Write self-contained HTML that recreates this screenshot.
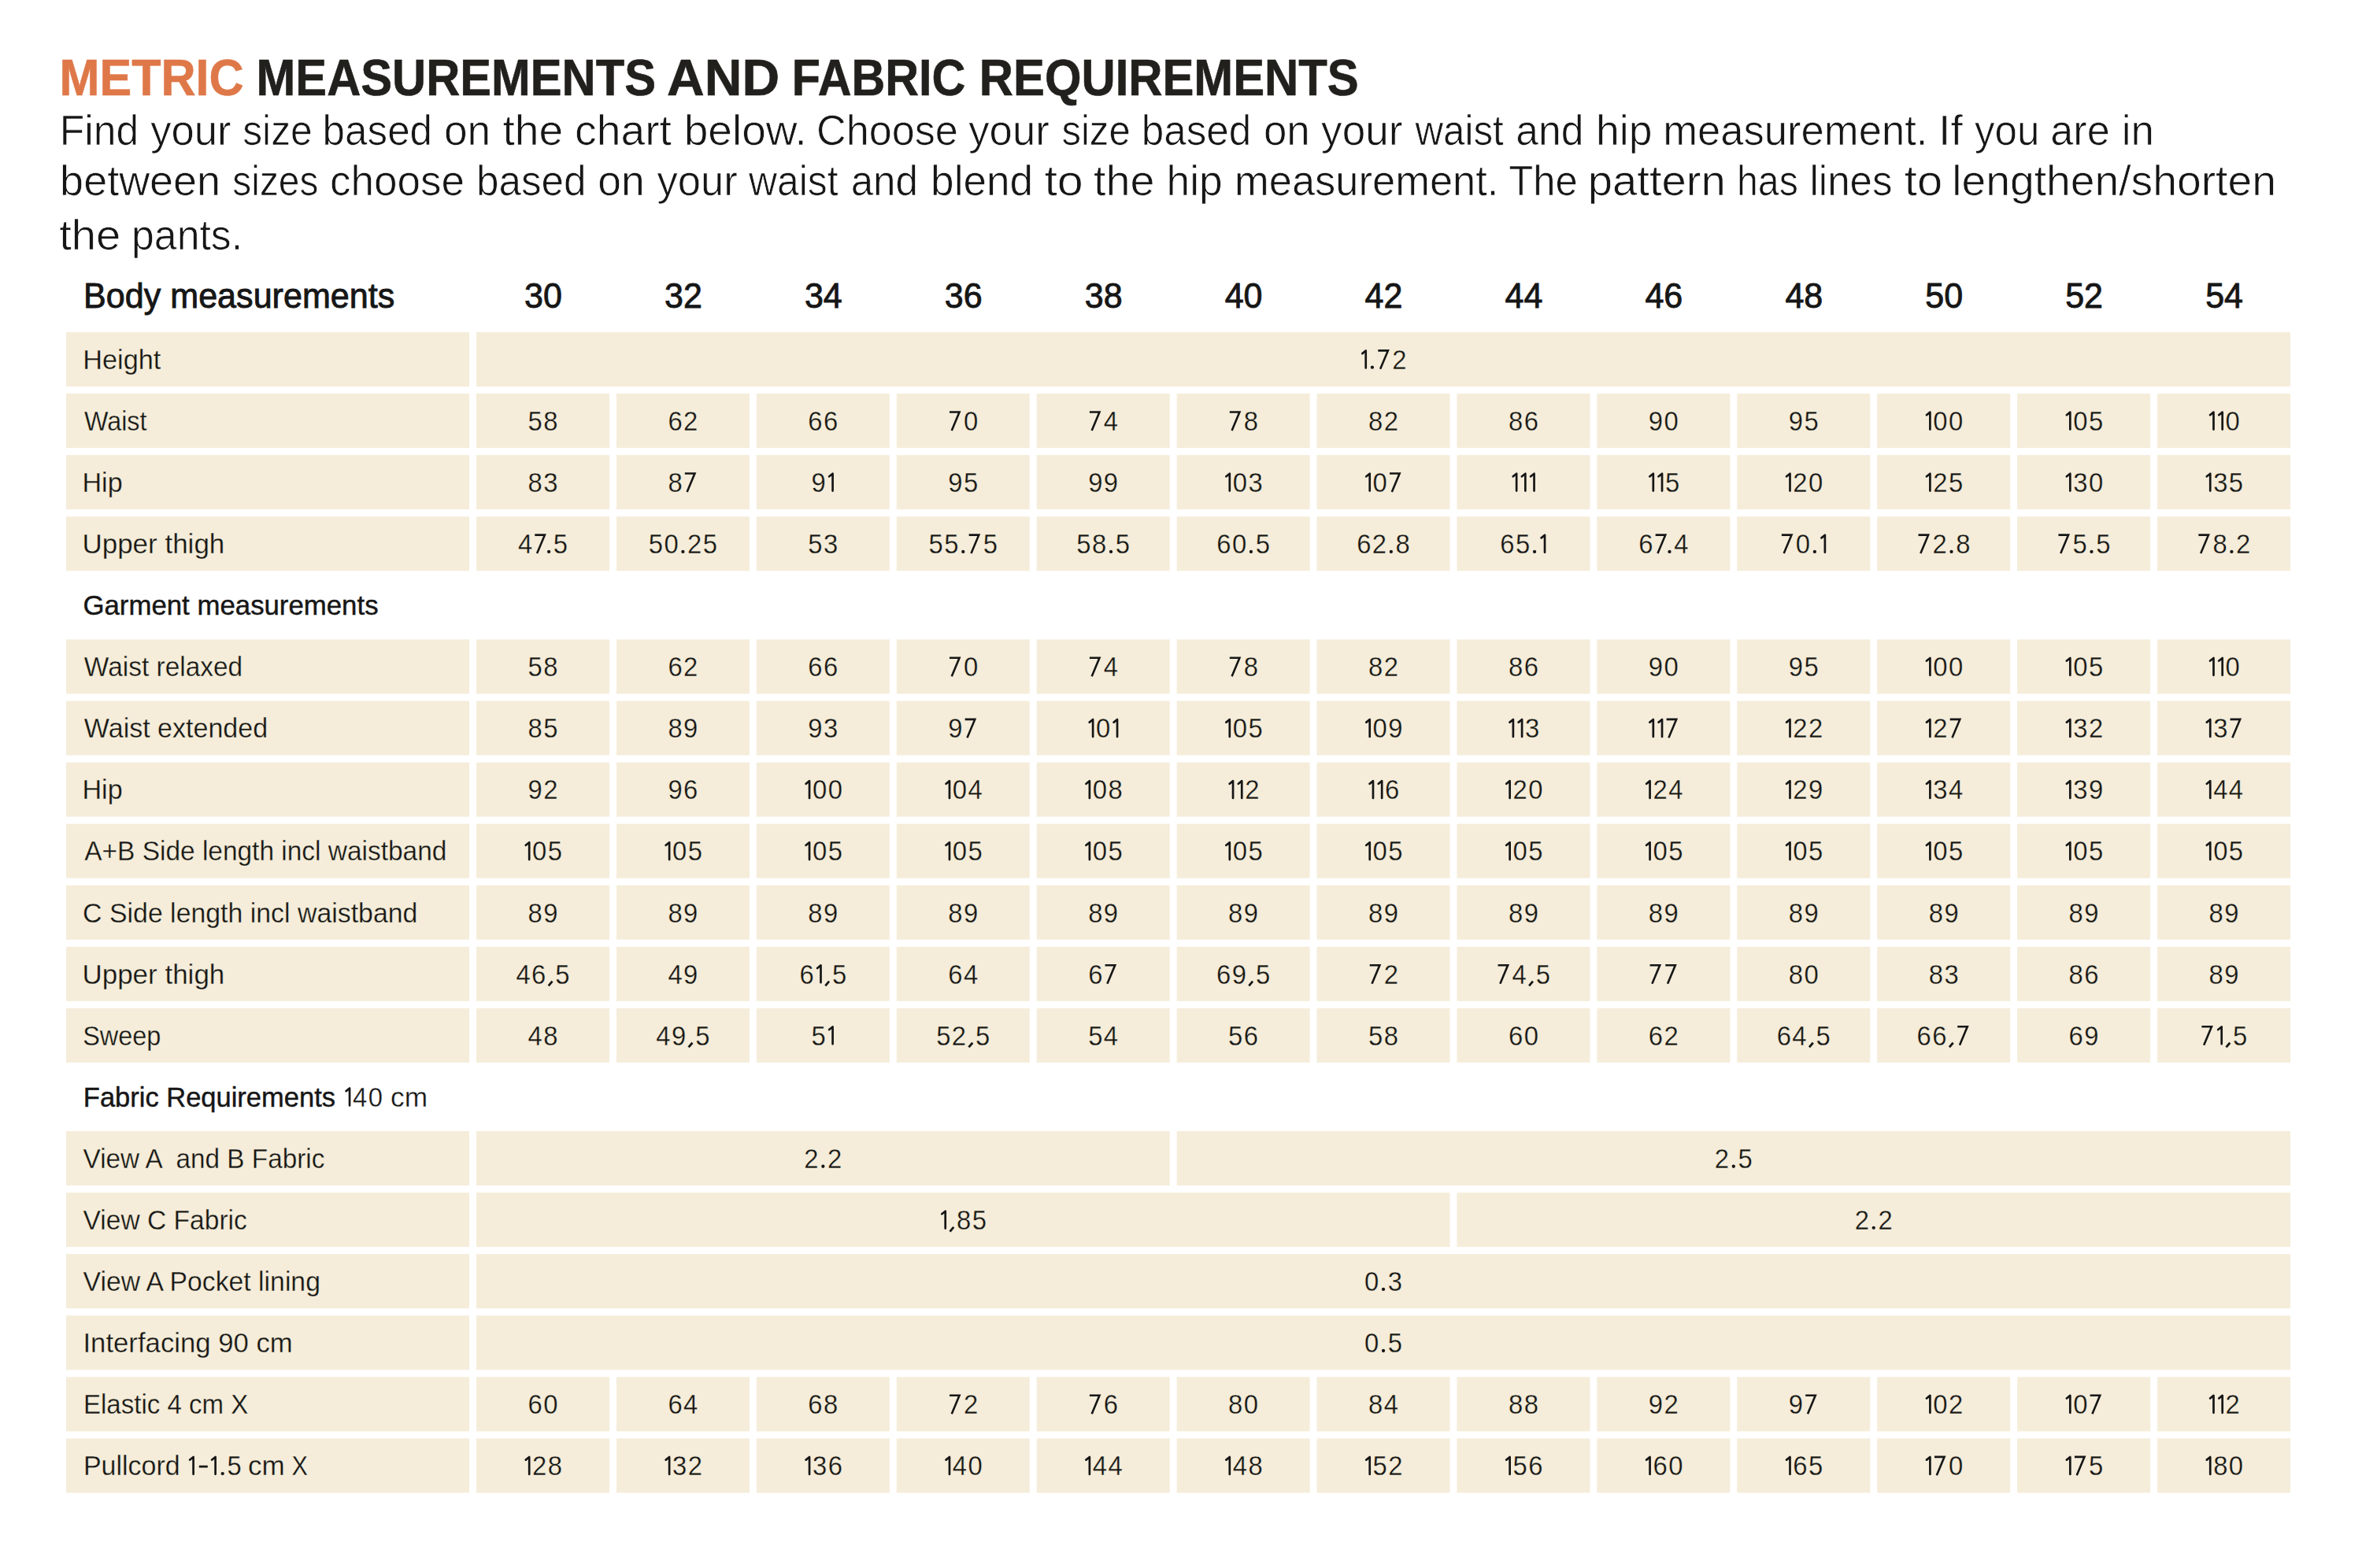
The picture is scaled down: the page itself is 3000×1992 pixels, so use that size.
<!DOCTYPE html>
<html><head><meta charset="utf-8"><title>Metric measurements</title>
<style>html,body{margin:0;padding:0;background:#fff;width:3000px;height:1992px;overflow:hidden}
svg{display:block} text{font-family:"Liberation Sans",sans-serif}</style></head>
<body><svg width="3000" height="1992" viewBox="0 0 3000 1992">
<rect width="3000" height="1992" fill="#fff"/>
<g fill="#F5EDDA"><rect x="84.00" y="422.00" width="512.00" height="69.00"/><rect x="605.00" y="422.00" width="2304.04" height="69.00"/><rect x="84.00" y="500.08" width="512.00" height="69.00"/><rect x="605.00" y="500.08" width="169.00" height="69.00"/><rect x="782.92" y="500.08" width="169.00" height="69.00"/><rect x="960.84" y="500.08" width="169.00" height="69.00"/><rect x="1138.76" y="500.08" width="169.00" height="69.00"/><rect x="1316.68" y="500.08" width="169.00" height="69.00"/><rect x="1494.60" y="500.08" width="169.00" height="69.00"/><rect x="1672.52" y="500.08" width="169.00" height="69.00"/><rect x="1850.44" y="500.08" width="169.00" height="69.00"/><rect x="2028.36" y="500.08" width="169.00" height="69.00"/><rect x="2206.28" y="500.08" width="169.00" height="69.00"/><rect x="2384.20" y="500.08" width="169.00" height="69.00"/><rect x="2562.12" y="500.08" width="169.00" height="69.00"/><rect x="2740.04" y="500.08" width="169.00" height="69.00"/><rect x="84.00" y="578.16" width="512.00" height="69.00"/><rect x="605.00" y="578.16" width="169.00" height="69.00"/><rect x="782.92" y="578.16" width="169.00" height="69.00"/><rect x="960.84" y="578.16" width="169.00" height="69.00"/><rect x="1138.76" y="578.16" width="169.00" height="69.00"/><rect x="1316.68" y="578.16" width="169.00" height="69.00"/><rect x="1494.60" y="578.16" width="169.00" height="69.00"/><rect x="1672.52" y="578.16" width="169.00" height="69.00"/><rect x="1850.44" y="578.16" width="169.00" height="69.00"/><rect x="2028.36" y="578.16" width="169.00" height="69.00"/><rect x="2206.28" y="578.16" width="169.00" height="69.00"/><rect x="2384.20" y="578.16" width="169.00" height="69.00"/><rect x="2562.12" y="578.16" width="169.00" height="69.00"/><rect x="2740.04" y="578.16" width="169.00" height="69.00"/><rect x="84.00" y="656.24" width="512.00" height="69.00"/><rect x="605.00" y="656.24" width="169.00" height="69.00"/><rect x="782.92" y="656.24" width="169.00" height="69.00"/><rect x="960.84" y="656.24" width="169.00" height="69.00"/><rect x="1138.76" y="656.24" width="169.00" height="69.00"/><rect x="1316.68" y="656.24" width="169.00" height="69.00"/><rect x="1494.60" y="656.24" width="169.00" height="69.00"/><rect x="1672.52" y="656.24" width="169.00" height="69.00"/><rect x="1850.44" y="656.24" width="169.00" height="69.00"/><rect x="2028.36" y="656.24" width="169.00" height="69.00"/><rect x="2206.28" y="656.24" width="169.00" height="69.00"/><rect x="2384.20" y="656.24" width="169.00" height="69.00"/><rect x="2562.12" y="656.24" width="169.00" height="69.00"/><rect x="2740.04" y="656.24" width="169.00" height="69.00"/><rect x="84.00" y="812.40" width="512.00" height="69.00"/><rect x="605.00" y="812.40" width="169.00" height="69.00"/><rect x="782.92" y="812.40" width="169.00" height="69.00"/><rect x="960.84" y="812.40" width="169.00" height="69.00"/><rect x="1138.76" y="812.40" width="169.00" height="69.00"/><rect x="1316.68" y="812.40" width="169.00" height="69.00"/><rect x="1494.60" y="812.40" width="169.00" height="69.00"/><rect x="1672.52" y="812.40" width="169.00" height="69.00"/><rect x="1850.44" y="812.40" width="169.00" height="69.00"/><rect x="2028.36" y="812.40" width="169.00" height="69.00"/><rect x="2206.28" y="812.40" width="169.00" height="69.00"/><rect x="2384.20" y="812.40" width="169.00" height="69.00"/><rect x="2562.12" y="812.40" width="169.00" height="69.00"/><rect x="2740.04" y="812.40" width="169.00" height="69.00"/><rect x="84.00" y="890.48" width="512.00" height="69.00"/><rect x="605.00" y="890.48" width="169.00" height="69.00"/><rect x="782.92" y="890.48" width="169.00" height="69.00"/><rect x="960.84" y="890.48" width="169.00" height="69.00"/><rect x="1138.76" y="890.48" width="169.00" height="69.00"/><rect x="1316.68" y="890.48" width="169.00" height="69.00"/><rect x="1494.60" y="890.48" width="169.00" height="69.00"/><rect x="1672.52" y="890.48" width="169.00" height="69.00"/><rect x="1850.44" y="890.48" width="169.00" height="69.00"/><rect x="2028.36" y="890.48" width="169.00" height="69.00"/><rect x="2206.28" y="890.48" width="169.00" height="69.00"/><rect x="2384.20" y="890.48" width="169.00" height="69.00"/><rect x="2562.12" y="890.48" width="169.00" height="69.00"/><rect x="2740.04" y="890.48" width="169.00" height="69.00"/><rect x="84.00" y="968.56" width="512.00" height="69.00"/><rect x="605.00" y="968.56" width="169.00" height="69.00"/><rect x="782.92" y="968.56" width="169.00" height="69.00"/><rect x="960.84" y="968.56" width="169.00" height="69.00"/><rect x="1138.76" y="968.56" width="169.00" height="69.00"/><rect x="1316.68" y="968.56" width="169.00" height="69.00"/><rect x="1494.60" y="968.56" width="169.00" height="69.00"/><rect x="1672.52" y="968.56" width="169.00" height="69.00"/><rect x="1850.44" y="968.56" width="169.00" height="69.00"/><rect x="2028.36" y="968.56" width="169.00" height="69.00"/><rect x="2206.28" y="968.56" width="169.00" height="69.00"/><rect x="2384.20" y="968.56" width="169.00" height="69.00"/><rect x="2562.12" y="968.56" width="169.00" height="69.00"/><rect x="2740.04" y="968.56" width="169.00" height="69.00"/><rect x="84.00" y="1046.64" width="512.00" height="69.00"/><rect x="605.00" y="1046.64" width="169.00" height="69.00"/><rect x="782.92" y="1046.64" width="169.00" height="69.00"/><rect x="960.84" y="1046.64" width="169.00" height="69.00"/><rect x="1138.76" y="1046.64" width="169.00" height="69.00"/><rect x="1316.68" y="1046.64" width="169.00" height="69.00"/><rect x="1494.60" y="1046.64" width="169.00" height="69.00"/><rect x="1672.52" y="1046.64" width="169.00" height="69.00"/><rect x="1850.44" y="1046.64" width="169.00" height="69.00"/><rect x="2028.36" y="1046.64" width="169.00" height="69.00"/><rect x="2206.28" y="1046.64" width="169.00" height="69.00"/><rect x="2384.20" y="1046.64" width="169.00" height="69.00"/><rect x="2562.12" y="1046.64" width="169.00" height="69.00"/><rect x="2740.04" y="1046.64" width="169.00" height="69.00"/><rect x="84.00" y="1124.72" width="512.00" height="69.00"/><rect x="605.00" y="1124.72" width="169.00" height="69.00"/><rect x="782.92" y="1124.72" width="169.00" height="69.00"/><rect x="960.84" y="1124.72" width="169.00" height="69.00"/><rect x="1138.76" y="1124.72" width="169.00" height="69.00"/><rect x="1316.68" y="1124.72" width="169.00" height="69.00"/><rect x="1494.60" y="1124.72" width="169.00" height="69.00"/><rect x="1672.52" y="1124.72" width="169.00" height="69.00"/><rect x="1850.44" y="1124.72" width="169.00" height="69.00"/><rect x="2028.36" y="1124.72" width="169.00" height="69.00"/><rect x="2206.28" y="1124.72" width="169.00" height="69.00"/><rect x="2384.20" y="1124.72" width="169.00" height="69.00"/><rect x="2562.12" y="1124.72" width="169.00" height="69.00"/><rect x="2740.04" y="1124.72" width="169.00" height="69.00"/><rect x="84.00" y="1202.80" width="512.00" height="69.00"/><rect x="605.00" y="1202.80" width="169.00" height="69.00"/><rect x="782.92" y="1202.80" width="169.00" height="69.00"/><rect x="960.84" y="1202.80" width="169.00" height="69.00"/><rect x="1138.76" y="1202.80" width="169.00" height="69.00"/><rect x="1316.68" y="1202.80" width="169.00" height="69.00"/><rect x="1494.60" y="1202.80" width="169.00" height="69.00"/><rect x="1672.52" y="1202.80" width="169.00" height="69.00"/><rect x="1850.44" y="1202.80" width="169.00" height="69.00"/><rect x="2028.36" y="1202.80" width="169.00" height="69.00"/><rect x="2206.28" y="1202.80" width="169.00" height="69.00"/><rect x="2384.20" y="1202.80" width="169.00" height="69.00"/><rect x="2562.12" y="1202.80" width="169.00" height="69.00"/><rect x="2740.04" y="1202.80" width="169.00" height="69.00"/><rect x="84.00" y="1280.88" width="512.00" height="69.00"/><rect x="605.00" y="1280.88" width="169.00" height="69.00"/><rect x="782.92" y="1280.88" width="169.00" height="69.00"/><rect x="960.84" y="1280.88" width="169.00" height="69.00"/><rect x="1138.76" y="1280.88" width="169.00" height="69.00"/><rect x="1316.68" y="1280.88" width="169.00" height="69.00"/><rect x="1494.60" y="1280.88" width="169.00" height="69.00"/><rect x="1672.52" y="1280.88" width="169.00" height="69.00"/><rect x="1850.44" y="1280.88" width="169.00" height="69.00"/><rect x="2028.36" y="1280.88" width="169.00" height="69.00"/><rect x="2206.28" y="1280.88" width="169.00" height="69.00"/><rect x="2384.20" y="1280.88" width="169.00" height="69.00"/><rect x="2562.12" y="1280.88" width="169.00" height="69.00"/><rect x="2740.04" y="1280.88" width="169.00" height="69.00"/><rect x="84.00" y="1437.04" width="512.00" height="69.00"/><rect x="605.00" y="1437.04" width="880.68" height="69.00"/><rect x="1494.60" y="1437.04" width="1414.44" height="69.00"/><rect x="84.00" y="1515.12" width="512.00" height="69.00"/><rect x="605.00" y="1515.12" width="1236.52" height="69.00"/><rect x="1850.44" y="1515.12" width="1058.60" height="69.00"/><rect x="84.00" y="1593.20" width="512.00" height="69.00"/><rect x="605.00" y="1593.20" width="2304.04" height="69.00"/><rect x="84.00" y="1671.28" width="512.00" height="69.00"/><rect x="605.00" y="1671.28" width="2304.04" height="69.00"/><rect x="84.00" y="1749.36" width="512.00" height="69.00"/><rect x="605.00" y="1749.36" width="169.00" height="69.00"/><rect x="782.92" y="1749.36" width="169.00" height="69.00"/><rect x="960.84" y="1749.36" width="169.00" height="69.00"/><rect x="1138.76" y="1749.36" width="169.00" height="69.00"/><rect x="1316.68" y="1749.36" width="169.00" height="69.00"/><rect x="1494.60" y="1749.36" width="169.00" height="69.00"/><rect x="1672.52" y="1749.36" width="169.00" height="69.00"/><rect x="1850.44" y="1749.36" width="169.00" height="69.00"/><rect x="2028.36" y="1749.36" width="169.00" height="69.00"/><rect x="2206.28" y="1749.36" width="169.00" height="69.00"/><rect x="2384.20" y="1749.36" width="169.00" height="69.00"/><rect x="2562.12" y="1749.36" width="169.00" height="69.00"/><rect x="2740.04" y="1749.36" width="169.00" height="69.00"/><rect x="84.00" y="1827.44" width="512.00" height="69.00"/><rect x="605.00" y="1827.44" width="169.00" height="69.00"/><rect x="782.92" y="1827.44" width="169.00" height="69.00"/><rect x="960.84" y="1827.44" width="169.00" height="69.00"/><rect x="1138.76" y="1827.44" width="169.00" height="69.00"/><rect x="1316.68" y="1827.44" width="169.00" height="69.00"/><rect x="1494.60" y="1827.44" width="169.00" height="69.00"/><rect x="1672.52" y="1827.44" width="169.00" height="69.00"/><rect x="1850.44" y="1827.44" width="169.00" height="69.00"/><rect x="2028.36" y="1827.44" width="169.00" height="69.00"/><rect x="2206.28" y="1827.44" width="169.00" height="69.00"/><rect x="2384.20" y="1827.44" width="169.00" height="69.00"/><rect x="2562.12" y="1827.44" width="169.00" height="69.00"/><rect x="2740.04" y="1827.44" width="169.00" height="69.00"/></g>
<g><text transform="translate(75.52,120.7) scale(0.9547,1)" font-size="64.00" font-weight="bold" fill="#DF7849" stroke="#DF7849" stroke-width="0.6">METRIC</text><text transform="translate(325.62,120.7) scale(0.9327,1)" font-size="64.00" font-weight="bold" fill="#22201D" stroke="#22201D" stroke-width="0.6">MEASUREMENTS</text><text transform="translate(847.02,120.7) scale(1.0317,1)" font-size="64.00" font-weight="bold" fill="#22201D" stroke="#22201D" stroke-width="0.6">AND</text><text transform="translate(1005.75,120.7) scale(0.9258,1)" font-size="64.00" font-weight="bold" fill="#22201D" stroke="#22201D" stroke-width="0.6">FABRIC</text><text transform="translate(1243.81,120.7) scale(0.9349,1)" font-size="64.00" font-weight="bold" fill="#22201D" stroke="#22201D" stroke-width="0.6">REQUIREMENTS</text><text transform="translate(75.77,184.00) scale(0.9764,1)" font-size="52.86" fill="#161616" stroke="#fff" stroke-width="0.7">Find</text><text transform="translate(191.30,184.00) scale(0.9950,1)" font-size="52.86" fill="#161616" stroke="#fff" stroke-width="0.7">your</text><text transform="translate(308.21,184.00) scale(0.9415,1)" font-size="52.86" fill="#161616" stroke="#fff" stroke-width="0.7">size</text><text transform="translate(409.62,184.00) scale(0.9686,1)" font-size="52.86" fill="#161616" stroke="#fff" stroke-width="0.7">based</text><text transform="translate(563.97,184.00) scale(1.0078,1)" font-size="52.86" fill="#161616" stroke="#fff" stroke-width="0.7">on</text><text transform="translate(638.49,184.00) scale(1.0455,1)" font-size="52.86" fill="#161616" stroke="#fff" stroke-width="0.7">the</text><text transform="translate(730.09,184.00) scale(1.0457,1)" font-size="52.86" fill="#161616" stroke="#fff" stroke-width="0.7">chart</text><text transform="translate(868.64,184.00) scale(1.0423,1)" font-size="52.86" fill="#161616" stroke="#fff" stroke-width="0.7">below.</text><text transform="translate(1037.09,184.00) scale(0.9866,1)" font-size="52.86" fill="#161616" stroke="#fff" stroke-width="0.7">Choose</text><text transform="translate(1230.30,184.00) scale(0.9959,1)" font-size="52.86" fill="#161616" stroke="#fff" stroke-width="0.7">your</text><text transform="translate(1348.43,184.00) scale(0.9281,1)" font-size="52.86" fill="#161616" stroke="#fff" stroke-width="0.7">size</text><text transform="translate(1449.72,184.00) scale(0.9686,1)" font-size="52.86" fill="#161616" stroke="#fff" stroke-width="0.7">based</text><text transform="translate(1604.89,184.00) scale(1.0003,1)" font-size="52.86" fill="#161616" stroke="#fff" stroke-width="0.7">on</text><text transform="translate(1678.10,184.00) scale(1.0038,1)" font-size="52.86" fill="#161616" stroke="#fff" stroke-width="0.7">your</text><text transform="translate(1797.50,184.00) scale(0.9318,1)" font-size="52.86" fill="#161616" stroke="#fff" stroke-width="0.7">waist</text><text transform="translate(1925.34,184.00) scale(0.9763,1)" font-size="52.86" fill="#161616" stroke="#fff" stroke-width="0.7">and</text><text transform="translate(2027.05,184.00) scale(1.0126,1)" font-size="52.86" fill="#161616" stroke="#fff" stroke-width="0.7">hip</text><text transform="translate(2112.22,184.00) scale(0.9951,1)" font-size="52.86" fill="#161616" stroke="#fff" stroke-width="0.7">measurement.</text><text transform="translate(2462.02,184.00) scale(1.0466,1)" font-size="52.86" fill="#161616" stroke="#fff" stroke-width="0.7">If</text><text transform="translate(2508.00,184.00) scale(0.9668,1)" font-size="52.86" fill="#161616" stroke="#fff" stroke-width="0.7">you</text><text transform="translate(2604.31,184.00) scale(0.9863,1)" font-size="52.86" fill="#161616" stroke="#fff" stroke-width="0.7">are</text><text transform="translate(2694.80,184.00) scale(0.9992,1)" font-size="52.86" fill="#161616" stroke="#fff" stroke-width="0.7">in</text><text transform="translate(76.12,247.70) scale(1.0211,1)" font-size="52.86" fill="#161616" stroke="#fff" stroke-width="0.7">between</text><text transform="translate(295.36,247.70) scale(0.9057,1)" font-size="52.86" fill="#161616" stroke="#fff" stroke-width="0.7">sizes</text><text transform="translate(418.98,247.70) scale(1.0038,1)" font-size="52.86" fill="#161616" stroke="#fff" stroke-width="0.7">choose</text><text transform="translate(604.91,247.70) scale(0.9693,1)" font-size="52.86" fill="#161616" stroke="#fff" stroke-width="0.7">based</text><text transform="translate(759.16,247.70) scale(1.0115,1)" font-size="52.86" fill="#161616" stroke="#fff" stroke-width="0.7">on</text><text transform="translate(834.40,247.70) scale(0.9959,1)" font-size="52.86" fill="#161616" stroke="#fff" stroke-width="0.7">your</text><text transform="translate(951.00,247.70) scale(0.9426,1)" font-size="52.86" fill="#161616" stroke="#fff" stroke-width="0.7">waist</text><text transform="translate(1080.65,247.70) scale(0.9678,1)" font-size="52.86" fill="#161616" stroke="#fff" stroke-width="0.7">and</text><text transform="translate(1182.08,247.70) scale(1.0057,1)" font-size="52.86" fill="#161616" stroke="#fff" stroke-width="0.7">blend</text><text transform="translate(1326.42,247.70) scale(1.1204,1)" font-size="52.86" fill="#161616" stroke="#fff" stroke-width="0.7">to</text><text transform="translate(1388.99,247.70) scale(1.0541,1)" font-size="52.86" fill="#161616" stroke="#fff" stroke-width="0.7">the</text><text transform="translate(1481.56,247.70) scale(1.0095,1)" font-size="52.86" fill="#161616" stroke="#fff" stroke-width="0.7">hip</text><text transform="translate(1568.03,247.70) scale(0.9930,1)" font-size="52.86" fill="#161616" stroke="#fff" stroke-width="0.7">measurement.</text><text transform="translate(1916.28,247.70) scale(0.9608,1)" font-size="52.86" fill="#161616" stroke="#fff" stroke-width="0.7">The</text><text transform="translate(2016.76,247.70) scale(1.0640,1)" font-size="52.86" fill="#161616" stroke="#fff" stroke-width="0.7">pattern</text><text transform="translate(2206.02,247.70) scale(0.9134,1)" font-size="52.86" fill="#161616" stroke="#fff" stroke-width="0.7">has</text><text transform="translate(2298.52,247.70) scale(0.9663,1)" font-size="52.86" fill="#161616" stroke="#fff" stroke-width="0.7">lines</text><text transform="translate(2418.84,247.70) scale(1.0958,1)" font-size="52.86" fill="#161616" stroke="#fff" stroke-width="0.7">to</text><text transform="translate(2479.13,247.70) scale(1.0457,1)" font-size="52.86" fill="#161616" stroke="#fff" stroke-width="0.7">lengthen/shorten</text><text transform="translate(75.18,317.00) scale(1.0626,1)" font-size="52.86" fill="#161616" stroke="#fff" stroke-width="0.7">the</text><text transform="translate(167.08,317.00) scale(0.9792,1)" font-size="52.86" fill="#161616" stroke="#fff" stroke-width="0.7">pants.</text><text transform="translate(105.26,468.80) scale(0.9756,1)" font-size="35.14" font-weight="normal" fill="#161616" stroke="#F5EDDA" stroke-width="0.3" xml:space="preserve">Height</text><text transform="translate(1768.31,468.85) scale(0.93,1)" font-size="35.29" fill="#161616" stroke="#F5EDDA" stroke-width="0.3">2</text><text transform="translate(106.88,546.88) scale(0.9199,1)" font-size="35.14" font-weight="normal" fill="#161616" stroke="#F5EDDA" stroke-width="0.3" xml:space="preserve">Waist</text><text transform="translate(670.49,546.93) scale(0.93,1)" font-size="35.29" fill="#161616" stroke="#F5EDDA" stroke-width="0.3">5</text><text transform="translate(690.19,546.93) scale(0.93,1)" font-size="35.29" fill="#161616" stroke="#F5EDDA" stroke-width="0.3">8</text><text transform="translate(848.41,546.93) scale(0.93,1)" font-size="35.29" fill="#161616" stroke="#F5EDDA" stroke-width="0.3">6</text><text transform="translate(868.11,546.93) scale(0.93,1)" font-size="35.29" fill="#161616" stroke="#F5EDDA" stroke-width="0.3">2</text><text transform="translate(1026.33,546.93) scale(0.93,1)" font-size="35.29" fill="#161616" stroke="#F5EDDA" stroke-width="0.3">6</text><text transform="translate(1046.03,546.93) scale(0.93,1)" font-size="35.29" fill="#161616" stroke="#F5EDDA" stroke-width="0.3">6</text><text transform="translate(1223.95,546.93) scale(0.93,1)" font-size="35.29" fill="#161616" stroke="#F5EDDA" stroke-width="0.3">0</text><text transform="translate(1401.87,546.93) scale(0.93,1)" font-size="35.29" fill="#161616" stroke="#F5EDDA" stroke-width="0.3">4</text><text transform="translate(1579.79,546.93) scale(0.93,1)" font-size="35.29" fill="#161616" stroke="#F5EDDA" stroke-width="0.3">8</text><text transform="translate(1738.01,546.93) scale(0.93,1)" font-size="35.29" fill="#161616" stroke="#F5EDDA" stroke-width="0.3">8</text><text transform="translate(1757.71,546.93) scale(0.93,1)" font-size="35.29" fill="#161616" stroke="#F5EDDA" stroke-width="0.3">2</text><text transform="translate(1915.93,546.93) scale(0.93,1)" font-size="35.29" fill="#161616" stroke="#F5EDDA" stroke-width="0.3">8</text><text transform="translate(1935.63,546.93) scale(0.93,1)" font-size="35.29" fill="#161616" stroke="#F5EDDA" stroke-width="0.3">6</text><text transform="translate(2093.85,546.93) scale(0.93,1)" font-size="35.29" fill="#161616" stroke="#F5EDDA" stroke-width="0.3">9</text><text transform="translate(2113.55,546.93) scale(0.93,1)" font-size="35.29" fill="#161616" stroke="#F5EDDA" stroke-width="0.3">0</text><text transform="translate(2271.77,546.93) scale(0.93,1)" font-size="35.29" fill="#161616" stroke="#F5EDDA" stroke-width="0.3">9</text><text transform="translate(2291.47,546.93) scale(0.93,1)" font-size="35.29" fill="#161616" stroke="#F5EDDA" stroke-width="0.3">5</text><text transform="translate(2455.29,546.93) scale(0.93,1)" font-size="35.29" fill="#161616" stroke="#F5EDDA" stroke-width="0.3">0</text><text transform="translate(2474.99,546.93) scale(0.93,1)" font-size="35.29" fill="#161616" stroke="#F5EDDA" stroke-width="0.3">0</text><text transform="translate(2633.21,546.93) scale(0.93,1)" font-size="35.29" fill="#161616" stroke="#F5EDDA" stroke-width="0.3">0</text><text transform="translate(2652.91,546.93) scale(0.93,1)" font-size="35.29" fill="#161616" stroke="#F5EDDA" stroke-width="0.3">5</text><text transform="translate(2826.58,546.93) scale(0.93,1)" font-size="35.29" fill="#161616" stroke="#F5EDDA" stroke-width="0.3">0</text><text transform="translate(104.47,624.96) scale(0.9712,1)" font-size="35.14" font-weight="normal" fill="#161616" stroke="#F5EDDA" stroke-width="0.3" xml:space="preserve">Hip</text><text transform="translate(670.49,625.01) scale(0.93,1)" font-size="35.29" fill="#161616" stroke="#F5EDDA" stroke-width="0.3">8</text><text transform="translate(690.19,625.01) scale(0.93,1)" font-size="35.29" fill="#161616" stroke="#F5EDDA" stroke-width="0.3">3</text><text transform="translate(848.41,625.01) scale(0.93,1)" font-size="35.29" fill="#161616" stroke="#F5EDDA" stroke-width="0.3">8</text><text transform="translate(1030.58,625.01) scale(0.93,1)" font-size="35.29" fill="#161616" stroke="#F5EDDA" stroke-width="0.3">9</text><text transform="translate(1204.25,625.01) scale(0.93,1)" font-size="35.29" fill="#161616" stroke="#F5EDDA" stroke-width="0.3">9</text><text transform="translate(1223.95,625.01) scale(0.93,1)" font-size="35.29" fill="#161616" stroke="#F5EDDA" stroke-width="0.3">5</text><text transform="translate(1382.17,625.01) scale(0.93,1)" font-size="35.29" fill="#161616" stroke="#F5EDDA" stroke-width="0.3">9</text><text transform="translate(1401.87,625.01) scale(0.93,1)" font-size="35.29" fill="#161616" stroke="#F5EDDA" stroke-width="0.3">9</text><text transform="translate(1565.69,625.01) scale(0.93,1)" font-size="35.29" fill="#161616" stroke="#F5EDDA" stroke-width="0.3">0</text><text transform="translate(1585.39,625.01) scale(0.93,1)" font-size="35.29" fill="#161616" stroke="#F5EDDA" stroke-width="0.3">3</text><text transform="translate(1743.61,625.01) scale(0.93,1)" font-size="35.29" fill="#161616" stroke="#F5EDDA" stroke-width="0.3">0</text><text transform="translate(2114.90,625.01) scale(0.93,1)" font-size="35.29" fill="#161616" stroke="#F5EDDA" stroke-width="0.3">5</text><text transform="translate(2277.37,625.01) scale(0.93,1)" font-size="35.29" fill="#161616" stroke="#F5EDDA" stroke-width="0.3">2</text><text transform="translate(2297.07,625.01) scale(0.93,1)" font-size="35.29" fill="#161616" stroke="#F5EDDA" stroke-width="0.3">0</text><text transform="translate(2455.29,625.01) scale(0.93,1)" font-size="35.29" fill="#161616" stroke="#F5EDDA" stroke-width="0.3">2</text><text transform="translate(2474.99,625.01) scale(0.93,1)" font-size="35.29" fill="#161616" stroke="#F5EDDA" stroke-width="0.3">5</text><text transform="translate(2633.21,625.01) scale(0.93,1)" font-size="35.29" fill="#161616" stroke="#F5EDDA" stroke-width="0.3">3</text><text transform="translate(2652.91,625.01) scale(0.93,1)" font-size="35.29" fill="#161616" stroke="#F5EDDA" stroke-width="0.3">0</text><text transform="translate(2811.13,625.01) scale(0.93,1)" font-size="35.29" fill="#161616" stroke="#F5EDDA" stroke-width="0.3">3</text><text transform="translate(2830.83,625.01) scale(0.93,1)" font-size="35.29" fill="#161616" stroke="#F5EDDA" stroke-width="0.3">5</text><text transform="translate(104.40,703.04) scale(0.9962,1)" font-size="35.14" font-weight="normal" fill="#161616" stroke="#F5EDDA" stroke-width="0.3" xml:space="preserve">Upper thigh</text><text transform="translate(657.89,703.09) scale(0.93,1)" font-size="35.29" fill="#161616" stroke="#F5EDDA" stroke-width="0.3">4</text><text transform="translate(702.79,703.09) scale(0.93,1)" font-size="35.29" fill="#161616" stroke="#F5EDDA" stroke-width="0.3">5</text><text transform="translate(823.71,703.09) scale(0.93,1)" font-size="35.29" fill="#161616" stroke="#F5EDDA" stroke-width="0.3">5</text><text transform="translate(843.41,703.09) scale(0.93,1)" font-size="35.29" fill="#161616" stroke="#F5EDDA" stroke-width="0.3">0</text><text transform="translate(873.11,703.09) scale(0.93,1)" font-size="35.29" fill="#161616" stroke="#F5EDDA" stroke-width="0.3">2</text><text transform="translate(892.81,703.09) scale(0.93,1)" font-size="35.29" fill="#161616" stroke="#F5EDDA" stroke-width="0.3">5</text><text transform="translate(1026.33,703.09) scale(0.93,1)" font-size="35.29" fill="#161616" stroke="#F5EDDA" stroke-width="0.3">5</text><text transform="translate(1046.03,703.09) scale(0.93,1)" font-size="35.29" fill="#161616" stroke="#F5EDDA" stroke-width="0.3">3</text><text transform="translate(1179.55,703.09) scale(0.93,1)" font-size="35.29" fill="#161616" stroke="#F5EDDA" stroke-width="0.3">5</text><text transform="translate(1199.25,703.09) scale(0.93,1)" font-size="35.29" fill="#161616" stroke="#F5EDDA" stroke-width="0.3">5</text><text transform="translate(1248.65,703.09) scale(0.93,1)" font-size="35.29" fill="#161616" stroke="#F5EDDA" stroke-width="0.3">5</text><text transform="translate(1367.32,703.09) scale(0.93,1)" font-size="35.29" fill="#161616" stroke="#F5EDDA" stroke-width="0.3">5</text><text transform="translate(1387.02,703.09) scale(0.93,1)" font-size="35.29" fill="#161616" stroke="#F5EDDA" stroke-width="0.3">8</text><text transform="translate(1416.72,703.09) scale(0.93,1)" font-size="35.29" fill="#161616" stroke="#F5EDDA" stroke-width="0.3">5</text><text transform="translate(1545.24,703.09) scale(0.93,1)" font-size="35.29" fill="#161616" stroke="#F5EDDA" stroke-width="0.3">6</text><text transform="translate(1564.94,703.09) scale(0.93,1)" font-size="35.29" fill="#161616" stroke="#F5EDDA" stroke-width="0.3">0</text><text transform="translate(1594.64,703.09) scale(0.93,1)" font-size="35.29" fill="#161616" stroke="#F5EDDA" stroke-width="0.3">5</text><text transform="translate(1723.16,703.09) scale(0.93,1)" font-size="35.29" fill="#161616" stroke="#F5EDDA" stroke-width="0.3">6</text><text transform="translate(1742.86,703.09) scale(0.93,1)" font-size="35.29" fill="#161616" stroke="#F5EDDA" stroke-width="0.3">2</text><text transform="translate(1772.56,703.09) scale(0.93,1)" font-size="35.29" fill="#161616" stroke="#F5EDDA" stroke-width="0.3">8</text><text transform="translate(1905.33,703.09) scale(0.93,1)" font-size="35.29" fill="#161616" stroke="#F5EDDA" stroke-width="0.3">6</text><text transform="translate(1925.03,703.09) scale(0.93,1)" font-size="35.29" fill="#161616" stroke="#F5EDDA" stroke-width="0.3">5</text><text transform="translate(2081.25,703.09) scale(0.93,1)" font-size="35.29" fill="#161616" stroke="#F5EDDA" stroke-width="0.3">6</text><text transform="translate(2126.15,703.09) scale(0.93,1)" font-size="35.29" fill="#161616" stroke="#F5EDDA" stroke-width="0.3">4</text><text transform="translate(2280.87,703.09) scale(0.93,1)" font-size="35.29" fill="#161616" stroke="#F5EDDA" stroke-width="0.3">0</text><text transform="translate(2454.54,703.09) scale(0.93,1)" font-size="35.29" fill="#161616" stroke="#F5EDDA" stroke-width="0.3">2</text><text transform="translate(2484.24,703.09) scale(0.93,1)" font-size="35.29" fill="#161616" stroke="#F5EDDA" stroke-width="0.3">8</text><text transform="translate(2632.46,703.09) scale(0.93,1)" font-size="35.29" fill="#161616" stroke="#F5EDDA" stroke-width="0.3">5</text><text transform="translate(2662.16,703.09) scale(0.93,1)" font-size="35.29" fill="#161616" stroke="#F5EDDA" stroke-width="0.3">5</text><text transform="translate(2810.38,703.09) scale(0.93,1)" font-size="35.29" fill="#161616" stroke="#F5EDDA" stroke-width="0.3">8</text><text transform="translate(2840.08,703.09) scale(0.93,1)" font-size="35.29" fill="#161616" stroke="#F5EDDA" stroke-width="0.3">2</text><text transform="translate(106.87,859.20) scale(0.9517,1)" font-size="35.14" font-weight="normal" fill="#161616" stroke="#F5EDDA" stroke-width="0.3" xml:space="preserve">Waist relaxed</text><text transform="translate(670.49,859.25) scale(0.93,1)" font-size="35.29" fill="#161616" stroke="#F5EDDA" stroke-width="0.3">5</text><text transform="translate(690.19,859.25) scale(0.93,1)" font-size="35.29" fill="#161616" stroke="#F5EDDA" stroke-width="0.3">8</text><text transform="translate(848.41,859.25) scale(0.93,1)" font-size="35.29" fill="#161616" stroke="#F5EDDA" stroke-width="0.3">6</text><text transform="translate(868.11,859.25) scale(0.93,1)" font-size="35.29" fill="#161616" stroke="#F5EDDA" stroke-width="0.3">2</text><text transform="translate(1026.33,859.25) scale(0.93,1)" font-size="35.29" fill="#161616" stroke="#F5EDDA" stroke-width="0.3">6</text><text transform="translate(1046.03,859.25) scale(0.93,1)" font-size="35.29" fill="#161616" stroke="#F5EDDA" stroke-width="0.3">6</text><text transform="translate(1223.95,859.25) scale(0.93,1)" font-size="35.29" fill="#161616" stroke="#F5EDDA" stroke-width="0.3">0</text><text transform="translate(1401.87,859.25) scale(0.93,1)" font-size="35.29" fill="#161616" stroke="#F5EDDA" stroke-width="0.3">4</text><text transform="translate(1579.79,859.25) scale(0.93,1)" font-size="35.29" fill="#161616" stroke="#F5EDDA" stroke-width="0.3">8</text><text transform="translate(1738.01,859.25) scale(0.93,1)" font-size="35.29" fill="#161616" stroke="#F5EDDA" stroke-width="0.3">8</text><text transform="translate(1757.71,859.25) scale(0.93,1)" font-size="35.29" fill="#161616" stroke="#F5EDDA" stroke-width="0.3">2</text><text transform="translate(1915.93,859.25) scale(0.93,1)" font-size="35.29" fill="#161616" stroke="#F5EDDA" stroke-width="0.3">8</text><text transform="translate(1935.63,859.25) scale(0.93,1)" font-size="35.29" fill="#161616" stroke="#F5EDDA" stroke-width="0.3">6</text><text transform="translate(2093.85,859.25) scale(0.93,1)" font-size="35.29" fill="#161616" stroke="#F5EDDA" stroke-width="0.3">9</text><text transform="translate(2113.55,859.25) scale(0.93,1)" font-size="35.29" fill="#161616" stroke="#F5EDDA" stroke-width="0.3">0</text><text transform="translate(2271.77,859.25) scale(0.93,1)" font-size="35.29" fill="#161616" stroke="#F5EDDA" stroke-width="0.3">9</text><text transform="translate(2291.47,859.25) scale(0.93,1)" font-size="35.29" fill="#161616" stroke="#F5EDDA" stroke-width="0.3">5</text><text transform="translate(2455.29,859.25) scale(0.93,1)" font-size="35.29" fill="#161616" stroke="#F5EDDA" stroke-width="0.3">0</text><text transform="translate(2474.99,859.25) scale(0.93,1)" font-size="35.29" fill="#161616" stroke="#F5EDDA" stroke-width="0.3">0</text><text transform="translate(2633.21,859.25) scale(0.93,1)" font-size="35.29" fill="#161616" stroke="#F5EDDA" stroke-width="0.3">0</text><text transform="translate(2652.91,859.25) scale(0.93,1)" font-size="35.29" fill="#161616" stroke="#F5EDDA" stroke-width="0.3">5</text><text transform="translate(2826.58,859.25) scale(0.93,1)" font-size="35.29" fill="#161616" stroke="#F5EDDA" stroke-width="0.3">0</text><text transform="translate(106.86,937.28) scale(0.9687,1)" font-size="35.14" font-weight="normal" fill="#161616" stroke="#F5EDDA" stroke-width="0.3" xml:space="preserve">Waist extended</text><text transform="translate(670.49,937.33) scale(0.93,1)" font-size="35.29" fill="#161616" stroke="#F5EDDA" stroke-width="0.3">8</text><text transform="translate(690.19,937.33) scale(0.93,1)" font-size="35.29" fill="#161616" stroke="#F5EDDA" stroke-width="0.3">5</text><text transform="translate(848.41,937.33) scale(0.93,1)" font-size="35.29" fill="#161616" stroke="#F5EDDA" stroke-width="0.3">8</text><text transform="translate(868.11,937.33) scale(0.93,1)" font-size="35.29" fill="#161616" stroke="#F5EDDA" stroke-width="0.3">9</text><text transform="translate(1026.33,937.33) scale(0.93,1)" font-size="35.29" fill="#161616" stroke="#F5EDDA" stroke-width="0.3">9</text><text transform="translate(1046.03,937.33) scale(0.93,1)" font-size="35.29" fill="#161616" stroke="#F5EDDA" stroke-width="0.3">3</text><text transform="translate(1204.25,937.33) scale(0.93,1)" font-size="35.29" fill="#161616" stroke="#F5EDDA" stroke-width="0.3">9</text><text transform="translate(1392.02,937.33) scale(0.93,1)" font-size="35.29" fill="#161616" stroke="#F5EDDA" stroke-width="0.3">0</text><text transform="translate(1565.69,937.33) scale(0.93,1)" font-size="35.29" fill="#161616" stroke="#F5EDDA" stroke-width="0.3">0</text><text transform="translate(1585.39,937.33) scale(0.93,1)" font-size="35.29" fill="#161616" stroke="#F5EDDA" stroke-width="0.3">5</text><text transform="translate(1743.61,937.33) scale(0.93,1)" font-size="35.29" fill="#161616" stroke="#F5EDDA" stroke-width="0.3">0</text><text transform="translate(1763.31,937.33) scale(0.93,1)" font-size="35.29" fill="#161616" stroke="#F5EDDA" stroke-width="0.3">9</text><text transform="translate(1936.98,937.33) scale(0.93,1)" font-size="35.29" fill="#161616" stroke="#F5EDDA" stroke-width="0.3">3</text><text transform="translate(2277.37,937.33) scale(0.93,1)" font-size="35.29" fill="#161616" stroke="#F5EDDA" stroke-width="0.3">2</text><text transform="translate(2297.07,937.33) scale(0.93,1)" font-size="35.29" fill="#161616" stroke="#F5EDDA" stroke-width="0.3">2</text><text transform="translate(2455.29,937.33) scale(0.93,1)" font-size="35.29" fill="#161616" stroke="#F5EDDA" stroke-width="0.3">2</text><text transform="translate(2633.21,937.33) scale(0.93,1)" font-size="35.29" fill="#161616" stroke="#F5EDDA" stroke-width="0.3">3</text><text transform="translate(2652.91,937.33) scale(0.93,1)" font-size="35.29" fill="#161616" stroke="#F5EDDA" stroke-width="0.3">2</text><text transform="translate(2811.13,937.33) scale(0.93,1)" font-size="35.29" fill="#161616" stroke="#F5EDDA" stroke-width="0.3">3</text><text transform="translate(104.47,1015.36) scale(0.9712,1)" font-size="35.14" font-weight="normal" fill="#161616" stroke="#F5EDDA" stroke-width="0.3" xml:space="preserve">Hip</text><text transform="translate(670.49,1015.41) scale(0.93,1)" font-size="35.29" fill="#161616" stroke="#F5EDDA" stroke-width="0.3">9</text><text transform="translate(690.19,1015.41) scale(0.93,1)" font-size="35.29" fill="#161616" stroke="#F5EDDA" stroke-width="0.3">2</text><text transform="translate(848.41,1015.41) scale(0.93,1)" font-size="35.29" fill="#161616" stroke="#F5EDDA" stroke-width="0.3">9</text><text transform="translate(868.11,1015.41) scale(0.93,1)" font-size="35.29" fill="#161616" stroke="#F5EDDA" stroke-width="0.3">6</text><text transform="translate(1031.93,1015.41) scale(0.93,1)" font-size="35.29" fill="#161616" stroke="#F5EDDA" stroke-width="0.3">0</text><text transform="translate(1051.63,1015.41) scale(0.93,1)" font-size="35.29" fill="#161616" stroke="#F5EDDA" stroke-width="0.3">0</text><text transform="translate(1209.85,1015.41) scale(0.93,1)" font-size="35.29" fill="#161616" stroke="#F5EDDA" stroke-width="0.3">0</text><text transform="translate(1229.55,1015.41) scale(0.93,1)" font-size="35.29" fill="#161616" stroke="#F5EDDA" stroke-width="0.3">4</text><text transform="translate(1387.77,1015.41) scale(0.93,1)" font-size="35.29" fill="#161616" stroke="#F5EDDA" stroke-width="0.3">0</text><text transform="translate(1407.47,1015.41) scale(0.93,1)" font-size="35.29" fill="#161616" stroke="#F5EDDA" stroke-width="0.3">8</text><text transform="translate(1581.14,1015.41) scale(0.93,1)" font-size="35.29" fill="#161616" stroke="#F5EDDA" stroke-width="0.3">2</text><text transform="translate(1759.06,1015.41) scale(0.93,1)" font-size="35.29" fill="#161616" stroke="#F5EDDA" stroke-width="0.3">6</text><text transform="translate(1921.53,1015.41) scale(0.93,1)" font-size="35.29" fill="#161616" stroke="#F5EDDA" stroke-width="0.3">2</text><text transform="translate(1941.23,1015.41) scale(0.93,1)" font-size="35.29" fill="#161616" stroke="#F5EDDA" stroke-width="0.3">0</text><text transform="translate(2099.45,1015.41) scale(0.93,1)" font-size="35.29" fill="#161616" stroke="#F5EDDA" stroke-width="0.3">2</text><text transform="translate(2119.15,1015.41) scale(0.93,1)" font-size="35.29" fill="#161616" stroke="#F5EDDA" stroke-width="0.3">4</text><text transform="translate(2277.37,1015.41) scale(0.93,1)" font-size="35.29" fill="#161616" stroke="#F5EDDA" stroke-width="0.3">2</text><text transform="translate(2297.07,1015.41) scale(0.93,1)" font-size="35.29" fill="#161616" stroke="#F5EDDA" stroke-width="0.3">9</text><text transform="translate(2455.29,1015.41) scale(0.93,1)" font-size="35.29" fill="#161616" stroke="#F5EDDA" stroke-width="0.3">3</text><text transform="translate(2474.99,1015.41) scale(0.93,1)" font-size="35.29" fill="#161616" stroke="#F5EDDA" stroke-width="0.3">4</text><text transform="translate(2633.21,1015.41) scale(0.93,1)" font-size="35.29" fill="#161616" stroke="#F5EDDA" stroke-width="0.3">3</text><text transform="translate(2652.91,1015.41) scale(0.93,1)" font-size="35.29" fill="#161616" stroke="#F5EDDA" stroke-width="0.3">9</text><text transform="translate(2811.13,1015.41) scale(0.93,1)" font-size="35.29" fill="#161616" stroke="#F5EDDA" stroke-width="0.3">4</text><text transform="translate(2830.83,1015.41) scale(0.93,1)" font-size="35.29" fill="#161616" stroke="#F5EDDA" stroke-width="0.3">4</text><text transform="translate(107.20,1093.44) scale(0.9522,1)" font-size="35.14" font-weight="normal" fill="#161616" stroke="#F5EDDA" stroke-width="0.3" xml:space="preserve">A+B Side length incl waistband</text><text transform="translate(676.09,1093.49) scale(0.93,1)" font-size="35.29" fill="#161616" stroke="#F5EDDA" stroke-width="0.3">0</text><text transform="translate(695.79,1093.49) scale(0.93,1)" font-size="35.29" fill="#161616" stroke="#F5EDDA" stroke-width="0.3">5</text><text transform="translate(854.01,1093.49) scale(0.93,1)" font-size="35.29" fill="#161616" stroke="#F5EDDA" stroke-width="0.3">0</text><text transform="translate(873.71,1093.49) scale(0.93,1)" font-size="35.29" fill="#161616" stroke="#F5EDDA" stroke-width="0.3">5</text><text transform="translate(1031.93,1093.49) scale(0.93,1)" font-size="35.29" fill="#161616" stroke="#F5EDDA" stroke-width="0.3">0</text><text transform="translate(1051.63,1093.49) scale(0.93,1)" font-size="35.29" fill="#161616" stroke="#F5EDDA" stroke-width="0.3">5</text><text transform="translate(1209.85,1093.49) scale(0.93,1)" font-size="35.29" fill="#161616" stroke="#F5EDDA" stroke-width="0.3">0</text><text transform="translate(1229.55,1093.49) scale(0.93,1)" font-size="35.29" fill="#161616" stroke="#F5EDDA" stroke-width="0.3">5</text><text transform="translate(1387.77,1093.49) scale(0.93,1)" font-size="35.29" fill="#161616" stroke="#F5EDDA" stroke-width="0.3">0</text><text transform="translate(1407.47,1093.49) scale(0.93,1)" font-size="35.29" fill="#161616" stroke="#F5EDDA" stroke-width="0.3">5</text><text transform="translate(1565.69,1093.49) scale(0.93,1)" font-size="35.29" fill="#161616" stroke="#F5EDDA" stroke-width="0.3">0</text><text transform="translate(1585.39,1093.49) scale(0.93,1)" font-size="35.29" fill="#161616" stroke="#F5EDDA" stroke-width="0.3">5</text><text transform="translate(1743.61,1093.49) scale(0.93,1)" font-size="35.29" fill="#161616" stroke="#F5EDDA" stroke-width="0.3">0</text><text transform="translate(1763.31,1093.49) scale(0.93,1)" font-size="35.29" fill="#161616" stroke="#F5EDDA" stroke-width="0.3">5</text><text transform="translate(1921.53,1093.49) scale(0.93,1)" font-size="35.29" fill="#161616" stroke="#F5EDDA" stroke-width="0.3">0</text><text transform="translate(1941.23,1093.49) scale(0.93,1)" font-size="35.29" fill="#161616" stroke="#F5EDDA" stroke-width="0.3">5</text><text transform="translate(2099.45,1093.49) scale(0.93,1)" font-size="35.29" fill="#161616" stroke="#F5EDDA" stroke-width="0.3">0</text><text transform="translate(2119.15,1093.49) scale(0.93,1)" font-size="35.29" fill="#161616" stroke="#F5EDDA" stroke-width="0.3">5</text><text transform="translate(2277.37,1093.49) scale(0.93,1)" font-size="35.29" fill="#161616" stroke="#F5EDDA" stroke-width="0.3">0</text><text transform="translate(2297.07,1093.49) scale(0.93,1)" font-size="35.29" fill="#161616" stroke="#F5EDDA" stroke-width="0.3">5</text><text transform="translate(2455.29,1093.49) scale(0.93,1)" font-size="35.29" fill="#161616" stroke="#F5EDDA" stroke-width="0.3">0</text><text transform="translate(2474.99,1093.49) scale(0.93,1)" font-size="35.29" fill="#161616" stroke="#F5EDDA" stroke-width="0.3">5</text><text transform="translate(2633.21,1093.49) scale(0.93,1)" font-size="35.29" fill="#161616" stroke="#F5EDDA" stroke-width="0.3">0</text><text transform="translate(2652.91,1093.49) scale(0.93,1)" font-size="35.29" fill="#161616" stroke="#F5EDDA" stroke-width="0.3">5</text><text transform="translate(2811.13,1093.49) scale(0.93,1)" font-size="35.29" fill="#161616" stroke="#F5EDDA" stroke-width="0.3">0</text><text transform="translate(2830.83,1093.49) scale(0.93,1)" font-size="35.29" fill="#161616" stroke="#F5EDDA" stroke-width="0.3">5</text><text transform="translate(105.11,1171.52) scale(0.9634,1)" font-size="35.14" font-weight="normal" fill="#161616" stroke="#F5EDDA" stroke-width="0.3" xml:space="preserve">C Side length incl waistband</text><text transform="translate(670.49,1171.57) scale(0.93,1)" font-size="35.29" fill="#161616" stroke="#F5EDDA" stroke-width="0.3">8</text><text transform="translate(690.19,1171.57) scale(0.93,1)" font-size="35.29" fill="#161616" stroke="#F5EDDA" stroke-width="0.3">9</text><text transform="translate(848.41,1171.57) scale(0.93,1)" font-size="35.29" fill="#161616" stroke="#F5EDDA" stroke-width="0.3">8</text><text transform="translate(868.11,1171.57) scale(0.93,1)" font-size="35.29" fill="#161616" stroke="#F5EDDA" stroke-width="0.3">9</text><text transform="translate(1026.33,1171.57) scale(0.93,1)" font-size="35.29" fill="#161616" stroke="#F5EDDA" stroke-width="0.3">8</text><text transform="translate(1046.03,1171.57) scale(0.93,1)" font-size="35.29" fill="#161616" stroke="#F5EDDA" stroke-width="0.3">9</text><text transform="translate(1204.25,1171.57) scale(0.93,1)" font-size="35.29" fill="#161616" stroke="#F5EDDA" stroke-width="0.3">8</text><text transform="translate(1223.95,1171.57) scale(0.93,1)" font-size="35.29" fill="#161616" stroke="#F5EDDA" stroke-width="0.3">9</text><text transform="translate(1382.17,1171.57) scale(0.93,1)" font-size="35.29" fill="#161616" stroke="#F5EDDA" stroke-width="0.3">8</text><text transform="translate(1401.87,1171.57) scale(0.93,1)" font-size="35.29" fill="#161616" stroke="#F5EDDA" stroke-width="0.3">9</text><text transform="translate(1560.09,1171.57) scale(0.93,1)" font-size="35.29" fill="#161616" stroke="#F5EDDA" stroke-width="0.3">8</text><text transform="translate(1579.79,1171.57) scale(0.93,1)" font-size="35.29" fill="#161616" stroke="#F5EDDA" stroke-width="0.3">9</text><text transform="translate(1738.01,1171.57) scale(0.93,1)" font-size="35.29" fill="#161616" stroke="#F5EDDA" stroke-width="0.3">8</text><text transform="translate(1757.71,1171.57) scale(0.93,1)" font-size="35.29" fill="#161616" stroke="#F5EDDA" stroke-width="0.3">9</text><text transform="translate(1915.93,1171.57) scale(0.93,1)" font-size="35.29" fill="#161616" stroke="#F5EDDA" stroke-width="0.3">8</text><text transform="translate(1935.63,1171.57) scale(0.93,1)" font-size="35.29" fill="#161616" stroke="#F5EDDA" stroke-width="0.3">9</text><text transform="translate(2093.85,1171.57) scale(0.93,1)" font-size="35.29" fill="#161616" stroke="#F5EDDA" stroke-width="0.3">8</text><text transform="translate(2113.55,1171.57) scale(0.93,1)" font-size="35.29" fill="#161616" stroke="#F5EDDA" stroke-width="0.3">9</text><text transform="translate(2271.77,1171.57) scale(0.93,1)" font-size="35.29" fill="#161616" stroke="#F5EDDA" stroke-width="0.3">8</text><text transform="translate(2291.47,1171.57) scale(0.93,1)" font-size="35.29" fill="#161616" stroke="#F5EDDA" stroke-width="0.3">9</text><text transform="translate(2449.69,1171.57) scale(0.93,1)" font-size="35.29" fill="#161616" stroke="#F5EDDA" stroke-width="0.3">8</text><text transform="translate(2469.39,1171.57) scale(0.93,1)" font-size="35.29" fill="#161616" stroke="#F5EDDA" stroke-width="0.3">9</text><text transform="translate(2627.61,1171.57) scale(0.93,1)" font-size="35.29" fill="#161616" stroke="#F5EDDA" stroke-width="0.3">8</text><text transform="translate(2647.31,1171.57) scale(0.93,1)" font-size="35.29" fill="#161616" stroke="#F5EDDA" stroke-width="0.3">9</text><text transform="translate(2805.53,1171.57) scale(0.93,1)" font-size="35.29" fill="#161616" stroke="#F5EDDA" stroke-width="0.3">8</text><text transform="translate(2825.23,1171.57) scale(0.93,1)" font-size="35.29" fill="#161616" stroke="#F5EDDA" stroke-width="0.3">9</text><text transform="translate(104.40,1249.60) scale(0.9962,1)" font-size="35.14" font-weight="normal" fill="#161616" stroke="#F5EDDA" stroke-width="0.3" xml:space="preserve">Upper thigh</text><text transform="translate(655.39,1249.65) scale(0.93,1)" font-size="35.29" fill="#161616" stroke="#F5EDDA" stroke-width="0.3">4</text><text transform="translate(675.09,1249.65) scale(0.93,1)" font-size="35.29" fill="#161616" stroke="#F5EDDA" stroke-width="0.3">6</text><text transform="translate(705.29,1249.65) scale(0.93,1)" font-size="35.29" fill="#161616" stroke="#F5EDDA" stroke-width="0.3">5</text><text transform="translate(848.41,1249.65) scale(0.93,1)" font-size="35.29" fill="#161616" stroke="#F5EDDA" stroke-width="0.3">4</text><text transform="translate(868.11,1249.65) scale(0.93,1)" font-size="35.29" fill="#161616" stroke="#F5EDDA" stroke-width="0.3">9</text><text transform="translate(1015.48,1249.65) scale(0.93,1)" font-size="35.29" fill="#161616" stroke="#F5EDDA" stroke-width="0.3">6</text><text transform="translate(1056.88,1249.65) scale(0.93,1)" font-size="35.29" fill="#161616" stroke="#F5EDDA" stroke-width="0.3">5</text><text transform="translate(1204.25,1249.65) scale(0.93,1)" font-size="35.29" fill="#161616" stroke="#F5EDDA" stroke-width="0.3">6</text><text transform="translate(1223.95,1249.65) scale(0.93,1)" font-size="35.29" fill="#161616" stroke="#F5EDDA" stroke-width="0.3">4</text><text transform="translate(1382.17,1249.65) scale(0.93,1)" font-size="35.29" fill="#161616" stroke="#F5EDDA" stroke-width="0.3">6</text><text transform="translate(1544.99,1249.65) scale(0.93,1)" font-size="35.29" fill="#161616" stroke="#F5EDDA" stroke-width="0.3">6</text><text transform="translate(1564.69,1249.65) scale(0.93,1)" font-size="35.29" fill="#161616" stroke="#F5EDDA" stroke-width="0.3">9</text><text transform="translate(1594.89,1249.65) scale(0.93,1)" font-size="35.29" fill="#161616" stroke="#F5EDDA" stroke-width="0.3">5</text><text transform="translate(1757.71,1249.65) scale(0.93,1)" font-size="35.29" fill="#161616" stroke="#F5EDDA" stroke-width="0.3">2</text><text transform="translate(1920.53,1249.65) scale(0.93,1)" font-size="35.29" fill="#161616" stroke="#F5EDDA" stroke-width="0.3">4</text><text transform="translate(1950.73,1249.65) scale(0.93,1)" font-size="35.29" fill="#161616" stroke="#F5EDDA" stroke-width="0.3">5</text><text transform="translate(2271.77,1249.65) scale(0.93,1)" font-size="35.29" fill="#161616" stroke="#F5EDDA" stroke-width="0.3">8</text><text transform="translate(2291.47,1249.65) scale(0.93,1)" font-size="35.29" fill="#161616" stroke="#F5EDDA" stroke-width="0.3">0</text><text transform="translate(2449.69,1249.65) scale(0.93,1)" font-size="35.29" fill="#161616" stroke="#F5EDDA" stroke-width="0.3">8</text><text transform="translate(2469.39,1249.65) scale(0.93,1)" font-size="35.29" fill="#161616" stroke="#F5EDDA" stroke-width="0.3">3</text><text transform="translate(2627.61,1249.65) scale(0.93,1)" font-size="35.29" fill="#161616" stroke="#F5EDDA" stroke-width="0.3">8</text><text transform="translate(2647.31,1249.65) scale(0.93,1)" font-size="35.29" fill="#161616" stroke="#F5EDDA" stroke-width="0.3">6</text><text transform="translate(2805.53,1249.65) scale(0.93,1)" font-size="35.29" fill="#161616" stroke="#F5EDDA" stroke-width="0.3">8</text><text transform="translate(2825.23,1249.65) scale(0.93,1)" font-size="35.29" fill="#161616" stroke="#F5EDDA" stroke-width="0.3">9</text><text transform="translate(105.18,1327.68) scale(0.9236,1)" font-size="35.14" font-weight="normal" fill="#161616" stroke="#F5EDDA" stroke-width="0.3" xml:space="preserve">Sweep</text><text transform="translate(670.49,1327.73) scale(0.93,1)" font-size="35.29" fill="#161616" stroke="#F5EDDA" stroke-width="0.3">4</text><text transform="translate(690.19,1327.73) scale(0.93,1)" font-size="35.29" fill="#161616" stroke="#F5EDDA" stroke-width="0.3">8</text><text transform="translate(833.31,1327.73) scale(0.93,1)" font-size="35.29" fill="#161616" stroke="#F5EDDA" stroke-width="0.3">4</text><text transform="translate(853.01,1327.73) scale(0.93,1)" font-size="35.29" fill="#161616" stroke="#F5EDDA" stroke-width="0.3">9</text><text transform="translate(883.21,1327.73) scale(0.93,1)" font-size="35.29" fill="#161616" stroke="#F5EDDA" stroke-width="0.3">5</text><text transform="translate(1030.58,1327.73) scale(0.93,1)" font-size="35.29" fill="#161616" stroke="#F5EDDA" stroke-width="0.3">5</text><text transform="translate(1189.15,1327.73) scale(0.93,1)" font-size="35.29" fill="#161616" stroke="#F5EDDA" stroke-width="0.3">5</text><text transform="translate(1208.85,1327.73) scale(0.93,1)" font-size="35.29" fill="#161616" stroke="#F5EDDA" stroke-width="0.3">2</text><text transform="translate(1239.05,1327.73) scale(0.93,1)" font-size="35.29" fill="#161616" stroke="#F5EDDA" stroke-width="0.3">5</text><text transform="translate(1382.17,1327.73) scale(0.93,1)" font-size="35.29" fill="#161616" stroke="#F5EDDA" stroke-width="0.3">5</text><text transform="translate(1401.87,1327.73) scale(0.93,1)" font-size="35.29" fill="#161616" stroke="#F5EDDA" stroke-width="0.3">4</text><text transform="translate(1560.09,1327.73) scale(0.93,1)" font-size="35.29" fill="#161616" stroke="#F5EDDA" stroke-width="0.3">5</text><text transform="translate(1579.79,1327.73) scale(0.93,1)" font-size="35.29" fill="#161616" stroke="#F5EDDA" stroke-width="0.3">6</text><text transform="translate(1738.01,1327.73) scale(0.93,1)" font-size="35.29" fill="#161616" stroke="#F5EDDA" stroke-width="0.3">5</text><text transform="translate(1757.71,1327.73) scale(0.93,1)" font-size="35.29" fill="#161616" stroke="#F5EDDA" stroke-width="0.3">8</text><text transform="translate(1915.93,1327.73) scale(0.93,1)" font-size="35.29" fill="#161616" stroke="#F5EDDA" stroke-width="0.3">6</text><text transform="translate(1935.63,1327.73) scale(0.93,1)" font-size="35.29" fill="#161616" stroke="#F5EDDA" stroke-width="0.3">0</text><text transform="translate(2093.85,1327.73) scale(0.93,1)" font-size="35.29" fill="#161616" stroke="#F5EDDA" stroke-width="0.3">6</text><text transform="translate(2113.55,1327.73) scale(0.93,1)" font-size="35.29" fill="#161616" stroke="#F5EDDA" stroke-width="0.3">2</text><text transform="translate(2256.67,1327.73) scale(0.93,1)" font-size="35.29" fill="#161616" stroke="#F5EDDA" stroke-width="0.3">6</text><text transform="translate(2276.37,1327.73) scale(0.93,1)" font-size="35.29" fill="#161616" stroke="#F5EDDA" stroke-width="0.3">4</text><text transform="translate(2306.57,1327.73) scale(0.93,1)" font-size="35.29" fill="#161616" stroke="#F5EDDA" stroke-width="0.3">5</text><text transform="translate(2434.59,1327.73) scale(0.93,1)" font-size="35.29" fill="#161616" stroke="#F5EDDA" stroke-width="0.3">6</text><text transform="translate(2454.29,1327.73) scale(0.93,1)" font-size="35.29" fill="#161616" stroke="#F5EDDA" stroke-width="0.3">6</text><text transform="translate(2627.61,1327.73) scale(0.93,1)" font-size="35.29" fill="#161616" stroke="#F5EDDA" stroke-width="0.3">6</text><text transform="translate(2647.31,1327.73) scale(0.93,1)" font-size="35.29" fill="#161616" stroke="#F5EDDA" stroke-width="0.3">9</text><text transform="translate(2836.08,1327.73) scale(0.93,1)" font-size="35.29" fill="#161616" stroke="#F5EDDA" stroke-width="0.3">5</text><text transform="translate(105.57,1483.84) scale(0.9483,1)" font-size="35.14" font-weight="normal" fill="#161616" stroke="#F5EDDA" stroke-width="0.3" xml:space="preserve">View A  and B Fabric</text><text transform="translate(1021.33,1483.89) scale(0.93,1)" font-size="35.29" fill="#161616" stroke="#F5EDDA" stroke-width="0.3">2</text><text transform="translate(1051.03,1483.89) scale(0.93,1)" font-size="35.29" fill="#161616" stroke="#F5EDDA" stroke-width="0.3">2</text><text transform="translate(2177.81,1483.89) scale(0.93,1)" font-size="35.29" fill="#161616" stroke="#F5EDDA" stroke-width="0.3">2</text><text transform="translate(2207.51,1483.89) scale(0.93,1)" font-size="35.29" fill="#161616" stroke="#F5EDDA" stroke-width="0.3">5</text><text transform="translate(105.56,1561.92) scale(0.9551,1)" font-size="35.14" font-weight="normal" fill="#161616" stroke="#F5EDDA" stroke-width="0.3" xml:space="preserve">View C Fabric</text><text transform="translate(1215.10,1561.97) scale(0.93,1)" font-size="35.29" fill="#161616" stroke="#F5EDDA" stroke-width="0.3">8</text><text transform="translate(1234.80,1561.97) scale(0.93,1)" font-size="35.29" fill="#161616" stroke="#F5EDDA" stroke-width="0.3">5</text><text transform="translate(2355.73,1561.97) scale(0.93,1)" font-size="35.29" fill="#161616" stroke="#F5EDDA" stroke-width="0.3">2</text><text transform="translate(2385.43,1561.97) scale(0.93,1)" font-size="35.29" fill="#161616" stroke="#F5EDDA" stroke-width="0.3">2</text><text transform="translate(105.56,1640.00) scale(0.9606,1)" font-size="35.14" font-weight="normal" fill="#161616" stroke="#F5EDDA" stroke-width="0.3" xml:space="preserve">View A Pocket lining</text><text transform="translate(1733.01,1640.05) scale(0.93,1)" font-size="35.29" fill="#161616" stroke="#F5EDDA" stroke-width="0.3">0</text><text transform="translate(1762.71,1640.05) scale(0.93,1)" font-size="35.29" fill="#161616" stroke="#F5EDDA" stroke-width="0.3">3</text><text transform="translate(105.47,1718.08) scale(0.9882,1)" font-size="35.14" font-weight="normal" fill="#161616" stroke="#F5EDDA" stroke-width="0.3" xml:space="preserve">Interfacing 90 cm</text><text transform="translate(1733.01,1718.13) scale(0.93,1)" font-size="35.29" fill="#161616" stroke="#F5EDDA" stroke-width="0.3">0</text><text transform="translate(1762.71,1718.13) scale(0.93,1)" font-size="35.29" fill="#161616" stroke="#F5EDDA" stroke-width="0.3">5</text><text transform="translate(105.96,1796.16) scale(0.9400,1)" font-size="35.14" font-weight="normal" fill="#161616" stroke="#F5EDDA" stroke-width="0.3" xml:space="preserve">Elastic 4 cm X</text><text transform="translate(670.49,1796.21) scale(0.93,1)" font-size="35.29" fill="#161616" stroke="#F5EDDA" stroke-width="0.3">6</text><text transform="translate(690.19,1796.21) scale(0.93,1)" font-size="35.29" fill="#161616" stroke="#F5EDDA" stroke-width="0.3">0</text><text transform="translate(848.41,1796.21) scale(0.93,1)" font-size="35.29" fill="#161616" stroke="#F5EDDA" stroke-width="0.3">6</text><text transform="translate(868.11,1796.21) scale(0.93,1)" font-size="35.29" fill="#161616" stroke="#F5EDDA" stroke-width="0.3">4</text><text transform="translate(1026.33,1796.21) scale(0.93,1)" font-size="35.29" fill="#161616" stroke="#F5EDDA" stroke-width="0.3">6</text><text transform="translate(1046.03,1796.21) scale(0.93,1)" font-size="35.29" fill="#161616" stroke="#F5EDDA" stroke-width="0.3">8</text><text transform="translate(1223.95,1796.21) scale(0.93,1)" font-size="35.29" fill="#161616" stroke="#F5EDDA" stroke-width="0.3">2</text><text transform="translate(1401.87,1796.21) scale(0.93,1)" font-size="35.29" fill="#161616" stroke="#F5EDDA" stroke-width="0.3">6</text><text transform="translate(1560.09,1796.21) scale(0.93,1)" font-size="35.29" fill="#161616" stroke="#F5EDDA" stroke-width="0.3">8</text><text transform="translate(1579.79,1796.21) scale(0.93,1)" font-size="35.29" fill="#161616" stroke="#F5EDDA" stroke-width="0.3">0</text><text transform="translate(1738.01,1796.21) scale(0.93,1)" font-size="35.29" fill="#161616" stroke="#F5EDDA" stroke-width="0.3">8</text><text transform="translate(1757.71,1796.21) scale(0.93,1)" font-size="35.29" fill="#161616" stroke="#F5EDDA" stroke-width="0.3">4</text><text transform="translate(1915.93,1796.21) scale(0.93,1)" font-size="35.29" fill="#161616" stroke="#F5EDDA" stroke-width="0.3">8</text><text transform="translate(1935.63,1796.21) scale(0.93,1)" font-size="35.29" fill="#161616" stroke="#F5EDDA" stroke-width="0.3">8</text><text transform="translate(2093.85,1796.21) scale(0.93,1)" font-size="35.29" fill="#161616" stroke="#F5EDDA" stroke-width="0.3">9</text><text transform="translate(2113.55,1796.21) scale(0.93,1)" font-size="35.29" fill="#161616" stroke="#F5EDDA" stroke-width="0.3">2</text><text transform="translate(2271.77,1796.21) scale(0.93,1)" font-size="35.29" fill="#161616" stroke="#F5EDDA" stroke-width="0.3">9</text><text transform="translate(2455.29,1796.21) scale(0.93,1)" font-size="35.29" fill="#161616" stroke="#F5EDDA" stroke-width="0.3">0</text><text transform="translate(2474.99,1796.21) scale(0.93,1)" font-size="35.29" fill="#161616" stroke="#F5EDDA" stroke-width="0.3">2</text><text transform="translate(2633.21,1796.21) scale(0.93,1)" font-size="35.29" fill="#161616" stroke="#F5EDDA" stroke-width="0.3">0</text><text transform="translate(2826.58,1796.21) scale(0.93,1)" font-size="35.29" fill="#161616" stroke="#F5EDDA" stroke-width="0.3">2</text><text transform="translate(105.88,1874.24) scale(0.9685,1)" font-size="35.14" font-weight="normal" fill="#161616" stroke="#F5EDDA" stroke-width="0.3" xml:space="preserve">Pullcord</text><text transform="translate(288.39,1874.24) scale(0.93,1)" font-size="35.29" fill="#161616" stroke="#F5EDDA" stroke-width="0.3">5</text><text transform="translate(315.00,1874.24) scale(0.9971,1)" font-size="35.14" font-weight="normal" fill="#161616" stroke="#F5EDDA" stroke-width="0.3" xml:space="preserve">cm</text><text transform="translate(370.38,1874.24) scale(0.8723,1)" font-size="35.14" font-weight="normal" fill="#161616" stroke="#F5EDDA" stroke-width="0.3" xml:space="preserve">X</text><text transform="translate(676.09,1874.29) scale(0.93,1)" font-size="35.29" fill="#161616" stroke="#F5EDDA" stroke-width="0.3">2</text><text transform="translate(695.79,1874.29) scale(0.93,1)" font-size="35.29" fill="#161616" stroke="#F5EDDA" stroke-width="0.3">8</text><text transform="translate(854.01,1874.29) scale(0.93,1)" font-size="35.29" fill="#161616" stroke="#F5EDDA" stroke-width="0.3">3</text><text transform="translate(873.71,1874.29) scale(0.93,1)" font-size="35.29" fill="#161616" stroke="#F5EDDA" stroke-width="0.3">2</text><text transform="translate(1031.93,1874.29) scale(0.93,1)" font-size="35.29" fill="#161616" stroke="#F5EDDA" stroke-width="0.3">3</text><text transform="translate(1051.63,1874.29) scale(0.93,1)" font-size="35.29" fill="#161616" stroke="#F5EDDA" stroke-width="0.3">6</text><text transform="translate(1209.85,1874.29) scale(0.93,1)" font-size="35.29" fill="#161616" stroke="#F5EDDA" stroke-width="0.3">4</text><text transform="translate(1229.55,1874.29) scale(0.93,1)" font-size="35.29" fill="#161616" stroke="#F5EDDA" stroke-width="0.3">0</text><text transform="translate(1387.77,1874.29) scale(0.93,1)" font-size="35.29" fill="#161616" stroke="#F5EDDA" stroke-width="0.3">4</text><text transform="translate(1407.47,1874.29) scale(0.93,1)" font-size="35.29" fill="#161616" stroke="#F5EDDA" stroke-width="0.3">4</text><text transform="translate(1565.69,1874.29) scale(0.93,1)" font-size="35.29" fill="#161616" stroke="#F5EDDA" stroke-width="0.3">4</text><text transform="translate(1585.39,1874.29) scale(0.93,1)" font-size="35.29" fill="#161616" stroke="#F5EDDA" stroke-width="0.3">8</text><text transform="translate(1743.61,1874.29) scale(0.93,1)" font-size="35.29" fill="#161616" stroke="#F5EDDA" stroke-width="0.3">5</text><text transform="translate(1763.31,1874.29) scale(0.93,1)" font-size="35.29" fill="#161616" stroke="#F5EDDA" stroke-width="0.3">2</text><text transform="translate(1921.53,1874.29) scale(0.93,1)" font-size="35.29" fill="#161616" stroke="#F5EDDA" stroke-width="0.3">5</text><text transform="translate(1941.23,1874.29) scale(0.93,1)" font-size="35.29" fill="#161616" stroke="#F5EDDA" stroke-width="0.3">6</text><text transform="translate(2099.45,1874.29) scale(0.93,1)" font-size="35.29" fill="#161616" stroke="#F5EDDA" stroke-width="0.3">6</text><text transform="translate(2119.15,1874.29) scale(0.93,1)" font-size="35.29" fill="#161616" stroke="#F5EDDA" stroke-width="0.3">0</text><text transform="translate(2277.37,1874.29) scale(0.93,1)" font-size="35.29" fill="#161616" stroke="#F5EDDA" stroke-width="0.3">6</text><text transform="translate(2297.07,1874.29) scale(0.93,1)" font-size="35.29" fill="#161616" stroke="#F5EDDA" stroke-width="0.3">5</text><text transform="translate(2474.99,1874.29) scale(0.93,1)" font-size="35.29" fill="#161616" stroke="#F5EDDA" stroke-width="0.3">0</text><text transform="translate(2652.91,1874.29) scale(0.93,1)" font-size="35.29" fill="#161616" stroke="#F5EDDA" stroke-width="0.3">5</text><text transform="translate(2811.13,1874.29) scale(0.93,1)" font-size="35.29" fill="#161616" stroke="#F5EDDA" stroke-width="0.3">8</text><text transform="translate(2830.83,1874.29) scale(0.93,1)" font-size="35.29" fill="#161616" stroke="#F5EDDA" stroke-width="0.3">0</text><text transform="translate(106.05,391.20) scale(0.9893,1)" font-size="43.57" font-weight="normal" fill="#161616" stroke="#161616" stroke-width="0.9" xml:space="preserve">Body measurements</text><text transform="translate(690.00,391.20) scale(0.9800,1)" text-anchor="middle" font-size="43.86" font-weight="normal" fill="#161616" stroke="#161616" stroke-width="0.9">30</text><text transform="translate(867.92,391.20) scale(0.9800,1)" text-anchor="middle" font-size="43.86" font-weight="normal" fill="#161616" stroke="#161616" stroke-width="0.9">32</text><text transform="translate(1045.84,391.20) scale(0.9800,1)" text-anchor="middle" font-size="43.86" font-weight="normal" fill="#161616" stroke="#161616" stroke-width="0.9">34</text><text transform="translate(1223.76,391.20) scale(0.9800,1)" text-anchor="middle" font-size="43.86" font-weight="normal" fill="#161616" stroke="#161616" stroke-width="0.9">36</text><text transform="translate(1401.68,391.20) scale(0.9800,1)" text-anchor="middle" font-size="43.86" font-weight="normal" fill="#161616" stroke="#161616" stroke-width="0.9">38</text><text transform="translate(1579.60,391.20) scale(0.9800,1)" text-anchor="middle" font-size="43.86" font-weight="normal" fill="#161616" stroke="#161616" stroke-width="0.9">40</text><text transform="translate(1757.52,391.20) scale(0.9800,1)" text-anchor="middle" font-size="43.86" font-weight="normal" fill="#161616" stroke="#161616" stroke-width="0.9">42</text><text transform="translate(1935.44,391.20) scale(0.9800,1)" text-anchor="middle" font-size="43.86" font-weight="normal" fill="#161616" stroke="#161616" stroke-width="0.9">44</text><text transform="translate(2113.36,391.20) scale(0.9800,1)" text-anchor="middle" font-size="43.86" font-weight="normal" fill="#161616" stroke="#161616" stroke-width="0.9">46</text><text transform="translate(2291.28,391.20) scale(0.9800,1)" text-anchor="middle" font-size="43.86" font-weight="normal" fill="#161616" stroke="#161616" stroke-width="0.9">48</text><text transform="translate(2469.20,391.20) scale(0.9800,1)" text-anchor="middle" font-size="43.86" font-weight="normal" fill="#161616" stroke="#161616" stroke-width="0.9">50</text><text transform="translate(2647.12,391.20) scale(0.9800,1)" text-anchor="middle" font-size="43.86" font-weight="normal" fill="#161616" stroke="#161616" stroke-width="0.9">52</text><text transform="translate(2825.04,391.20) scale(0.9800,1)" text-anchor="middle" font-size="43.86" font-weight="normal" fill="#161616" stroke="#161616" stroke-width="0.9">54</text><text transform="translate(105.46,781.20) scale(1.0067,1)" font-size="34.57" font-weight="normal" fill="#161616" stroke="#161616" stroke-width="0.45" xml:space="preserve">Garment measurements</text><text transform="translate(105.84,1405.80) scale(0.9818,1)" font-size="35.14" font-weight="normal" fill="#161616" stroke="#161616" stroke-width="0.45" xml:space="preserve">Fabric Requirements</text><text transform="translate(447.94,1405.80) scale(0.93,1)" font-size="35.29" fill="#161616" stroke="#fff" stroke-width="0.3">4</text><text transform="translate(467.64,1405.80) scale(0.93,1)" font-size="35.29" fill="#161616" stroke="#fff" stroke-width="0.3">0</text><text transform="translate(495.99,1405.80) scale(1.0040,1)" font-size="35.14" font-weight="normal" fill="#161616" stroke="#fff" stroke-width="0.3" xml:space="preserve">cm</text></g>
<path d="M1730.32 449.15L1734.72 445.55V467.45M2447.00 527.23L2451.40 523.63V545.53M2624.92 527.23L2629.32 523.63V545.53M2807.09 527.23L2811.49 523.63V545.53M2818.29 527.23L2822.69 523.63V545.53M1053.19 605.31L1057.59 601.71V623.61M1557.40 605.31L1561.80 601.71V623.61M1735.32 605.31L1739.72 601.71V623.61M1921.74 605.31L1926.14 601.71V623.61M1932.94 605.31L1937.34 601.71V623.61M1944.14 605.31L1948.54 601.71V623.61M2095.41 605.31L2099.81 601.71V623.61M2106.61 605.31L2111.01 601.71V623.61M2269.08 605.31L2273.48 601.71V623.61M2447.00 605.31L2451.40 601.71V623.61M2624.92 605.31L2629.32 601.71V623.61M2802.84 605.31L2807.24 601.71V623.61M1957.64 683.39L1962.04 679.79V701.69M2313.48 683.39L2317.88 679.79V701.69M2447.00 839.55L2451.40 835.95V857.85M2624.92 839.55L2629.32 835.95V857.85M2807.09 839.55L2811.49 835.95V857.85M2818.29 839.55L2822.69 835.95V857.85M1383.73 917.63L1388.13 914.03V935.93M1414.63 917.63L1419.03 914.03V935.93M1557.40 917.63L1561.80 914.03V935.93M1735.32 917.63L1739.72 914.03V935.93M1917.49 917.63L1921.89 914.03V935.93M1928.69 917.63L1933.09 914.03V935.93M2095.41 917.63L2099.81 914.03V935.93M2106.61 917.63L2111.01 914.03V935.93M2269.08 917.63L2273.48 914.03V935.93M2447.00 917.63L2451.40 914.03V935.93M2624.92 917.63L2629.32 914.03V935.93M2802.84 917.63L2807.24 914.03V935.93M1023.64 995.71L1028.04 992.11V1014.01M1201.56 995.71L1205.96 992.11V1014.01M1379.48 995.71L1383.88 992.11V1014.01M1561.65 995.71L1566.05 992.11V1014.01M1572.85 995.71L1577.25 992.11V1014.01M1739.57 995.71L1743.97 992.11V1014.01M1750.77 995.71L1755.17 992.11V1014.01M1913.24 995.71L1917.64 992.11V1014.01M2091.16 995.71L2095.56 992.11V1014.01M2269.08 995.71L2273.48 992.11V1014.01M2447.00 995.71L2451.40 992.11V1014.01M2624.92 995.71L2629.32 992.11V1014.01M2802.84 995.71L2807.24 992.11V1014.01M667.80 1073.79L672.20 1070.19V1092.09M845.72 1073.79L850.12 1070.19V1092.09M1023.64 1073.79L1028.04 1070.19V1092.09M1201.56 1073.79L1205.96 1070.19V1092.09M1379.48 1073.79L1383.88 1070.19V1092.09M1557.40 1073.79L1561.80 1070.19V1092.09M1735.32 1073.79L1739.72 1070.19V1092.09M1913.24 1073.79L1917.64 1070.19V1092.09M2091.16 1073.79L2095.56 1070.19V1092.09M2269.08 1073.79L2273.48 1070.19V1092.09M2447.00 1073.79L2451.40 1070.19V1092.09M2624.92 1073.79L2629.32 1070.19V1092.09M2802.84 1073.79L2807.24 1070.19V1092.09M1038.09 1229.95L1042.49 1226.35V1248.25M1053.19 1308.03L1057.59 1304.43V1326.33M2817.29 1308.03L2821.69 1304.43V1326.33M1196.31 1542.27L1200.71 1538.67V1560.57M2447.00 1776.51L2451.40 1772.91V1794.81M2624.92 1776.51L2629.32 1772.91V1794.81M2807.09 1776.51L2811.49 1772.91V1794.81M2818.29 1776.51L2822.69 1772.91V1794.81M241.20 1854.54L245.60 1850.94V1872.84M269.20 1854.54L273.60 1850.94V1872.84M667.80 1854.59L672.20 1850.99V1872.89M845.72 1854.59L850.12 1850.99V1872.89M1023.64 1854.59L1028.04 1850.99V1872.89M1201.56 1854.59L1205.96 1850.99V1872.89M1379.48 1854.59L1383.88 1850.99V1872.89M1557.40 1854.59L1561.80 1850.99V1872.89M1735.32 1854.59L1739.72 1850.99V1872.89M1913.24 1854.59L1917.64 1850.99V1872.89M2091.16 1854.59L2095.56 1850.99V1872.89M2269.08 1854.59L2273.48 1850.99V1872.89M2447.00 1854.59L2451.40 1850.99V1872.89M2624.92 1854.59L2629.32 1850.99V1872.89M2802.84 1854.59L2807.24 1850.99V1872.89M439.65 1386.10L444.05 1382.50V1404.40" fill="none" stroke="#161616" stroke-width="2.7" stroke-linecap="round" stroke-linejoin="round"/><path d="M701.50 1246.65L696.70 1252.35M1053.09 1246.65L1048.29 1252.35M1591.10 1246.65L1586.30 1252.35M1946.94 1246.65L1942.14 1252.35M879.42 1324.73L874.62 1330.43M1235.26 1324.73L1230.46 1330.43M2302.78 1324.73L2297.98 1330.43M2480.70 1324.73L2475.90 1330.43M2832.29 1324.73L2827.49 1330.43M1211.31 1558.97L1206.51 1564.67M252.8 1863.14H263.8" fill="none" stroke="#161616" stroke-width="2.8"/><path d="M1750.32 445.40H1762.92L1753.12 468.85M1205.96 523.48H1218.56L1208.76 546.93M1383.88 523.48H1396.48L1386.68 546.93M1561.80 523.48H1574.40L1564.60 546.93M869.82 601.56H882.42L872.62 625.01M1765.02 601.56H1777.62L1767.82 625.01M679.30 679.64H691.90L682.10 703.09M1230.66 679.64H1243.26L1233.46 703.09M2102.66 679.64H2115.26L2105.46 703.09M2262.88 679.64H2275.48L2265.68 703.09M2436.55 679.64H2449.15L2439.35 703.09M2614.47 679.64H2627.07L2617.27 703.09M2792.39 679.64H2804.99L2795.19 703.09M1205.96 835.80H1218.56L1208.76 859.25M1383.88 835.80H1396.48L1386.68 859.25M1561.80 835.80H1574.40L1564.60 859.25M1225.66 913.88H1238.26L1228.46 937.33M2116.61 913.88H2129.21L2119.41 937.33M2476.70 913.88H2489.30L2479.50 937.33M2832.54 913.88H2845.14L2835.34 937.33M1403.58 1226.20H1416.18L1406.38 1249.65M1739.72 1226.20H1752.32L1742.52 1249.65M1902.54 1226.20H1915.14L1905.34 1249.65M2095.56 1226.20H2108.16L2098.36 1249.65M2115.26 1226.20H2127.86L2118.06 1249.65M2486.20 1304.28H2498.80L2489.00 1327.73M2796.39 1304.28H2808.99L2799.19 1327.73M1205.96 1772.76H1218.56L1208.76 1796.21M1383.88 1772.76H1396.48L1386.68 1796.21M2293.18 1772.76H2305.78L2295.98 1796.21M2654.62 1772.76H2667.22L2657.42 1796.21M2457.00 1850.84H2469.60L2459.80 1874.29M2634.92 1850.84H2647.52L2637.72 1874.29" fill="none" stroke="#161616" stroke-width="2.6" stroke-linejoin="miter" stroke-miterlimit="3"/><g fill="#161616"><circle cx="1742.92" cy="466.70" r="2.15"/><circle cx="697.10" cy="700.94" r="2.15"/><circle cx="867.42" cy="700.94" r="2.15"/><circle cx="1223.26" cy="700.94" r="2.15"/><circle cx="1411.03" cy="700.94" r="2.15"/><circle cx="1588.95" cy="700.94" r="2.15"/><circle cx="1766.87" cy="700.94" r="2.15"/><circle cx="1949.04" cy="700.94" r="2.15"/><circle cx="2120.46" cy="700.94" r="2.15"/><circle cx="2304.88" cy="700.94" r="2.15"/><circle cx="2478.55" cy="700.94" r="2.15"/><circle cx="2656.47" cy="700.94" r="2.15"/><circle cx="2834.39" cy="700.94" r="2.15"/><circle cx="1045.34" cy="1481.74" r="2.15"/><circle cx="2201.82" cy="1481.74" r="2.15"/><circle cx="2379.74" cy="1559.82" r="2.15"/><circle cx="1757.02" cy="1637.90" r="2.15"/><circle cx="1757.02" cy="1715.98" r="2.15"/><circle cx="282.7" cy="1872.09" r="2.15"/></g>
</svg></body></html>
